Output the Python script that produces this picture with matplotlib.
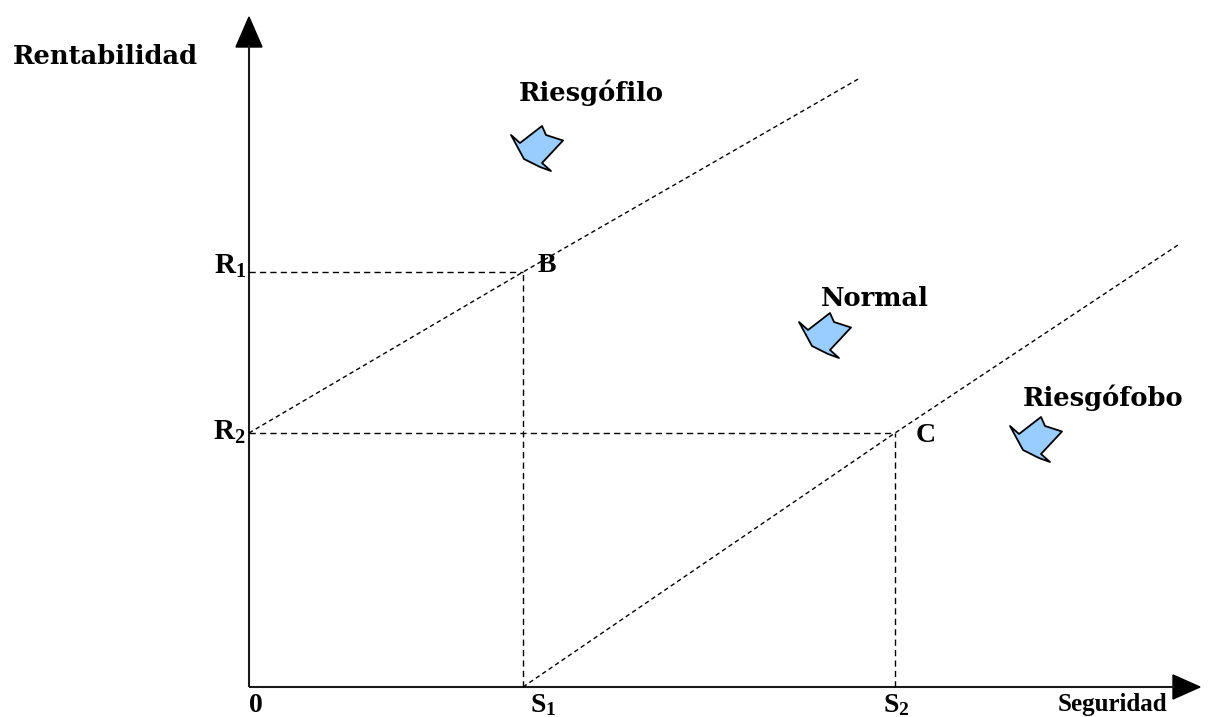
import matplotlib
matplotlib.use("Agg")
import matplotlib.pyplot as plt
from matplotlib.patches import Polygon
import numpy as np

plt.rcParams["mathtext.fontset"] = "custom"
plt.rcParams["mathtext.bf"] = "Liberation Serif:bold"
plt.rcParams["mathtext.rm"] = "Liberation Serif"
plt.rcParams["mathtext.it"] = "Liberation Serif:italic"

# ---- data (diagram coordinates, origin at the axes corner) ----
R1 = 415          # rentabilidad level of B
R2 = 254          # rentabilidad level of C
S1 = 274          # seguridad level of B
S2 = 646          # seguridad level of C
x_axis_end = 951
y_axis_end = 670

upper_line_x = [0, S1, 611]        # R2 -> B -> beyond
upper_line_y = [R2, R1, 609]
lower_line_x = [S1, S2, 929]       # S1 -> C -> beyond
lower_line_y = [0, R2, 442]

region_labels = ["Riesgófilo", "Normal", "Riesgófobo"]
region_label_x = [342, 626, 854]
region_label_y = [594, 389, 289]
icon_anchor_x = [262, 550, 761]
icon_anchor_y = [561, 374, 270]

# shape of the little blue bent arrows (offsets, pixel-like units, y downward)
icon_dx = [0.0, 9.0, 31.0, 35.0, 52.0, 31.0, 40.0, 29.0, 13.0]
icon_dy = [9.0, 17.0, 0.0, 9.0, 14.5, 37.0, 45.0, 41.0, 33.0]

fig = plt.figure(figsize=(12.15, 7.17), dpi=100)
ax = fig.add_axes([0, 0, 1, 1])
ax.set_xlim(-249, 966)
ax.set_ylim(-30, 687)
ax.axis("off")

serif_wide = "DejaVu Serif"
serif = "Liberation Serif"

# axes
axis_color = "#1a1a1a"
ax.plot([0, x_axis_end - 26], [0, 0], color=axis_color, lw=1.5, solid_capstyle="butt")
ax.plot([0, 0], [0, y_axis_end - 28], color=axis_color, lw=1.5, solid_capstyle="butt")
ax.add_patch(Polygon([[x_axis_end - 27, 12], [x_axis_end, 0], [x_axis_end - 27, -12]],
                     closed=True, color="black"))
ax.add_patch(Polygon([[-13, y_axis_end - 30], [0, y_axis_end], [13, y_axis_end - 30]],
                     closed=True, color="black"))

# dashed reference lines
dash_hv = dict(color="black", lw=1.0, dashes=(4.5, 3.0))
ax.plot([0, S1], [R1, R1], **dash_hv)
ax.plot([S1, S1], [0, R1], **dash_hv)
ax.plot([0, S2], [R2, R2], **dash_hv)
ax.plot([S2, S2], [0, R2], **dash_hv)

dash_diag = dict(color="black", lw=1.0, dashes=(3.2, 2.4))
ax.plot(upper_line_x, upper_line_y, **dash_diag)
ax.plot(lower_line_x, lower_line_y, **dash_diag)

# icons
for axx, ayy in zip(icon_anchor_x, icon_anchor_y):
    pts = np.column_stack([axx + np.array(icon_dx), ayy - np.array(icon_dy)])
    ax.add_patch(Polygon(pts, closed=True, facecolor="#99ccff", edgecolor="black",
                         lw=1.3, joinstyle="round"))

# labels
for t, x, y in zip(region_labels, region_label_x, region_label_y):
    ax.text(x, y, t, fontsize=18.5, fontweight="bold", family=serif_wide,
            ha="center", va="center")

ax.text(-144, 630, "Rentabilidad", fontsize=18.5, fontweight="bold", family=serif_wide,
        ha="center", va="center")
ax.text(863, -17, "Seguridad", fontsize=18, fontweight="bold", family=serif,
        ha="center", va="center")

ax.text(289, 422, "B", fontsize=20, fontweight="bold", family=serif, ha="left", va="center")
ax.text(667, 251, "C", fontsize=20, fontweight="bold", family=serif, ha="left", va="center")

ax.text(-3, 421, r"$\mathbf{R_1}$", fontsize=21, ha="right", va="center")
ax.text(-3, 255, r"$\mathbf{R_2}$", fontsize=21, ha="right", va="center")
ax.text(6, -17, r"$\mathbf{0}$", fontsize=20, ha="center", va="center")
ax.text(S1 + 20, -17, r"$\mathbf{S_1}$", fontsize=20, ha="center", va="center")
ax.text(S2 + 1, -17, r"$\mathbf{S_2}$", fontsize=20, ha="center", va="center")

fig.savefig("out.png", dpi=100)
